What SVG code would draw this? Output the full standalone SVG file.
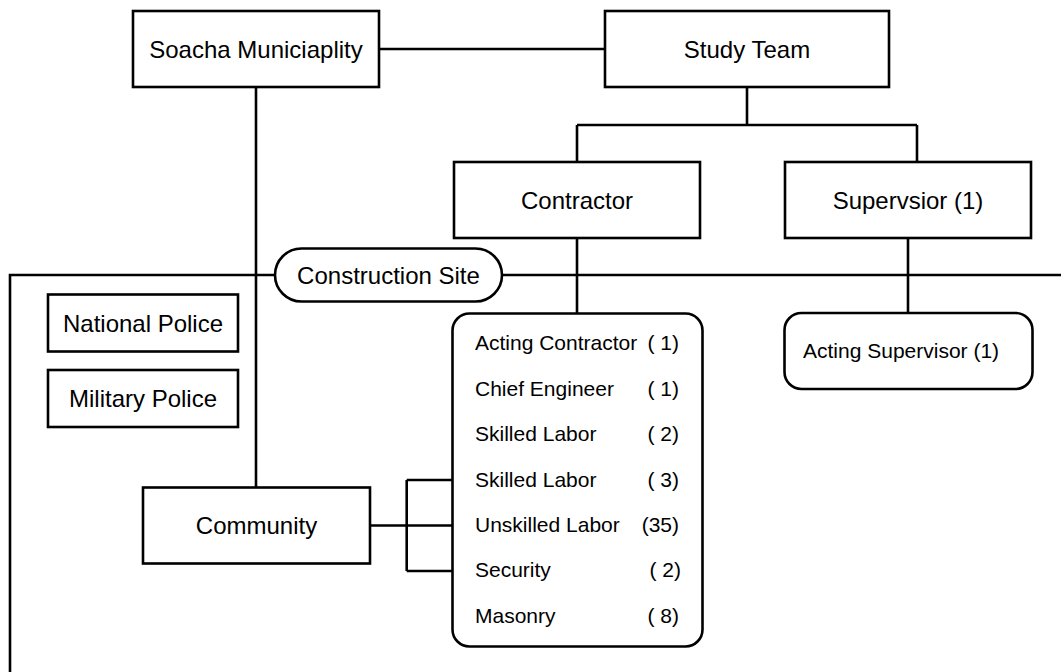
<svg xmlns="http://www.w3.org/2000/svg" width="1061" height="672" viewBox="0 0 1061 672">
<style>
.box{fill:#fff;stroke:#000;stroke-width:2.6}
.ln{fill:none;stroke:#000;stroke-width:2.6}
.t{font-family:"Liberation Sans",Arial,sans-serif;font-size:24px;fill:#000;text-anchor:middle}
.s{font-family:"Liberation Sans",Arial,sans-serif;font-size:21px;fill:#000}
</style>
<rect width="1061" height="672" fill="#fff"/>
<g id="connectors">
<path class="ln" d="M379 49H605"/>
<path class="ln" d="M747 87V125M577 125H917M577 125V162M917 125V162"/>
<path class="ln" d="M256 87V487"/>
<path class="ln" d="M10 672V275H1061"/>
<path class="ln" d="M577 238V313.5"/>
<path class="ln" d="M908 238V313"/>
<path class="ln" d="M370 525.5H464M406.7 480V571M406.7 480H464M406.7 571H464"/>
</g>
<g id="soacha"><rect class="box" x="133" y="11" width="246" height="76"/><text class="t" x="256" y="57.5">Soacha Municiaplity</text></g>
<g id="study-team"><rect class="box" x="605" y="11" width="284" height="76"/><text class="t" x="747" y="57.5">Study Team</text></g>
<g id="contractor"><rect class="box" x="454" y="162" width="246" height="76"/><text class="t" x="577" y="208.5">Contractor</text></g>
<g id="supervisor"><rect class="box" x="785" y="162" width="246" height="76"/><text class="t" x="908" y="208.5">Supervsior (1)</text></g>
<g id="construction-site"><rect class="box" x="275" y="248.5" width="227" height="53" rx="26.5"/><text class="t" x="388.5" y="283.5">Construction Site</text></g>
<g id="national-police"><rect class="box" x="48" y="294.5" width="190" height="57"/><text class="t" x="143" y="331.5">National Police</text></g>
<g id="military-police"><rect class="box" x="48" y="370" width="190" height="57"/><text class="t" x="143" y="407">Military Police</text></g>
<g id="community"><rect class="box" x="143" y="487.5" width="227" height="76"/><text class="t" x="256.5" y="534">Community</text></g>
<g id="contractor-staff"><rect class="box" x="452.5" y="313.5" width="250" height="333" rx="17"/>
<text class="s"><tspan x="475" y="350">Acting Contractor</tspan><tspan x="679" y="350" text-anchor="end">( 1)</tspan></text>
<text class="s"><tspan x="475" y="395.5">Chief Engineer</tspan><tspan x="679" y="395.5" text-anchor="end">( 1)</tspan></text>
<text class="s"><tspan x="475" y="441">Skilled Labor</tspan><tspan x="679" y="441" text-anchor="end">( 2)</tspan></text>
<text class="s"><tspan x="475" y="486.5">Skilled Labor</tspan><tspan x="679" y="486.5" text-anchor="end">( 3)</tspan></text>
<text class="s"><tspan x="475" y="532">Unskilled Labor</tspan><tspan x="679" y="532" text-anchor="end">(35)</tspan></text>
<text class="s"><tspan x="475" y="577">Security</tspan><tspan x="681" y="577" text-anchor="end">( 2)</tspan></text>
<text class="s"><tspan x="475" y="622.5">Masonry</tspan><tspan x="679" y="622.5" text-anchor="end">( 8)</tspan></text>
</g>
<g id="acting-supervisor"><rect class="box" x="784.5" y="313" width="248" height="76" rx="17"/><text class="s" x="803" y="357.5">Acting Supervisor  (1)</text></g>
</svg>
